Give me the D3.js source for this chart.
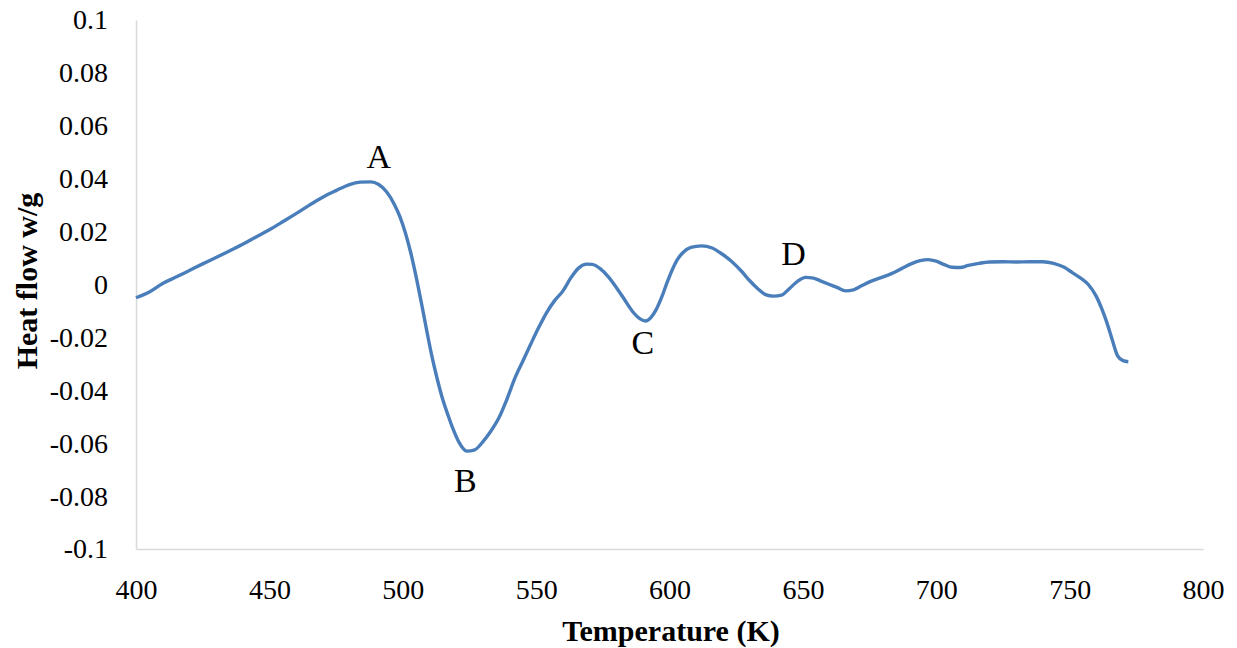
<!DOCTYPE html>
<html>
<head>
<meta charset="utf-8">
<script src="https://cdn.jsdelivr.net/npm/d3@7"></script>
<style>
  html, body { margin: 0; padding: 0; background: #fff; }
  svg { display: block; }
  text { font-family: "Liberation Serif", "Times New Roman", serif; fill: #000; }
</style>
</head>
<body>
<svg id="chart" width="1237" height="648"></svg>
<script>
// ---- data ----
const temperature = [
  400, 405, 410, 415, 420, 425, 430, 435, 440, 445, 450, 455, 460, 465, 470, 475,
  480, 484, 488, 491, 494, 497, 499, 501, 503, 505, 507, 509, 511, 513, 515, 517,
  519, 521, 524, 527, 530, 533, 536, 539, 542, 545, 548, 551, 554, 557, 560, 563,
  566, 569, 571, 574, 577, 580, 583, 586, 589, 591, 593, 595, 597, 599, 601, 603,
  605, 608, 612, 616, 619, 623, 627, 630, 633, 636, 639, 642, 645, 648, 651, 654,
  657, 660, 663, 666, 669, 672, 675, 679, 683, 687, 691, 694, 697, 700, 703, 706,
  709, 712, 716, 720, 725, 730, 735, 740, 744, 748, 751, 754, 757, 760, 762, 764,
  766, 768, 770, 772
];
const heatFlow = [
  -0.0050, -0.0028, 0.0004, 0.0028, 0.0053, 0.0078, 0.0102, 0.0127, 0.0152, 0.0180, 0.0207, 0.0237, 0.0268, 0.0300, 0.0330, 0.0355,
  0.0378, 0.0387, 0.0388, 0.0378, 0.0350, 0.0300, 0.0255, 0.0195, 0.0120, 0.0030, -0.0070, -0.0175, -0.0275, -0.0360, -0.0435, -0.0495,
  -0.0550, -0.0595, -0.0630, -0.0625, -0.0595, -0.0555, -0.0505, -0.0435, -0.0355, -0.0290, -0.0225, -0.0162, -0.0105, -0.0060, -0.0025, 0.0025,
  0.0063, 0.0077, 0.0076, 0.0060, 0.0030, -0.0010, -0.0055, -0.0100, -0.0130, -0.0138, -0.0125, -0.0095, -0.0050, 0.0005, 0.0055, 0.0095,
  0.0120, 0.0140, 0.0146, 0.0138, 0.0120, 0.0090, 0.0050, 0.0015, -0.0015, -0.0038, -0.0044, -0.0040, -0.0015, 0.0012, 0.0027, 0.0024,
  0.0012, 0.0000, -0.0012, -0.0024, -0.0020, -0.0005, 0.0010, 0.0025, 0.0040, 0.0060, 0.0080, 0.0090, 0.0094, 0.0088, 0.0075, 0.0065,
  0.0064, 0.0072, 0.0080, 0.0085, 0.0086, 0.0085, 0.0086, 0.0086, 0.0080, 0.0065, 0.0045, 0.0025, 0.0000, -0.0045, -0.0090, -0.0145,
  -0.0210, -0.0270, -0.0288, -0.0292
];
const xTicks = [400, 450, 500, 550, 600, 650, 700, 750, 800];
const yTicks = [-0.1, -0.08, -0.06, -0.04, -0.02, 0, 0.02, 0.04, 0.06, 0.08, 0.1];
const yTickLabels = ["-0.1", "-0.08", "-0.06", "-0.04", "-0.02", "0", "0.02", "0.04", "0.06", "0.08", "0.1"];
const peakLabels = ["A", "B", "C", "D"];
const peakT = [488, 523.5, 590, 649.5];
const peakV = [0.0388, -0.0632, -0.0138, 0.0027];

// ---- layout ----
const svg = d3.select("#chart");
const mLeft = 136, mRight = 1203, mTop = 20, mBottom = 549;
const x = d3.scaleLinear().domain([400, 800]).range([mLeft, mRight]);
const y = d3.scaleLinear().domain([-0.1, 0.1]).range([mBottom, mTop]);

// axes
const xAxis = d3.axisBottom(x).tickValues(xTicks).tickSize(0).tickPadding(30).tickFormat(d3.format("d"));
const gx = svg.append("g").attr("transform", `translate(0,${mBottom})`).call(xAxis);
gx.attr("font-family", "Liberation Serif");
gx.select(".domain").attr("stroke", "#d9d9d9").attr("stroke-width", 1.5);
gx.selectAll("text").attr("font-size", 28).attr("font-family", "Liberation Serif").attr("fill", "#000");

const yAxis = d3.axisLeft(y).tickValues(yTicks).tickSize(0).tickPadding(28)
  .tickFormat((d, i) => yTickLabels[i]);
const gy = svg.append("g").attr("transform", `translate(${mLeft},0)`).call(yAxis);
gy.attr("font-family", "Liberation Serif");
gy.select(".domain").attr("stroke", "#d9d9d9").attr("stroke-width", 1.5);
gy.selectAll("text").attr("font-size", 28).attr("font-family", "Liberation Serif").attr("fill", "#000");

// line
const pts = temperature.map((t, i) => [t, heatFlow[i]]);
const line = d3.line().x(d => x(d[0])).y(d => y(d[1])).curve(d3.curveMonotoneX);
svg.append("path").datum(pts)
  .attr("d", line)
  .attr("fill", "none")
  .attr("stroke", "#4a7ebb")
  .attr("stroke-width", 3.4)
  .attr("stroke-linejoin", "round");

// peak labels
const offs = [[8, -14], [0, 40], [0, 33], [-8, -12]];
svg.selectAll("text.peak").data(peakLabels).enter().append("text")
  .attr("class", "peak")
  .attr("x", (d, i) => x(peakT[i]) + offs[i][0])
  .attr("y", (d, i) => y(peakV[i]) + offs[i][1])
  .attr("text-anchor", "middle")
  .attr("font-size", 34)
  .text(d => d);

// axis titles
svg.append("text")
  .attr("x", 671).attr("y", 641)
  .attr("text-anchor", "middle")
  .attr("font-size", 30).attr("font-weight", "bold")
  .text("Temperature (K)");

svg.append("text")
  .attr("transform", "translate(37,281) rotate(-90)")
  .attr("text-anchor", "middle")
  .attr("font-size", 30).attr("font-weight", "bold")
  .text("Heat flow w/g");
</script>
</body>
</html>
